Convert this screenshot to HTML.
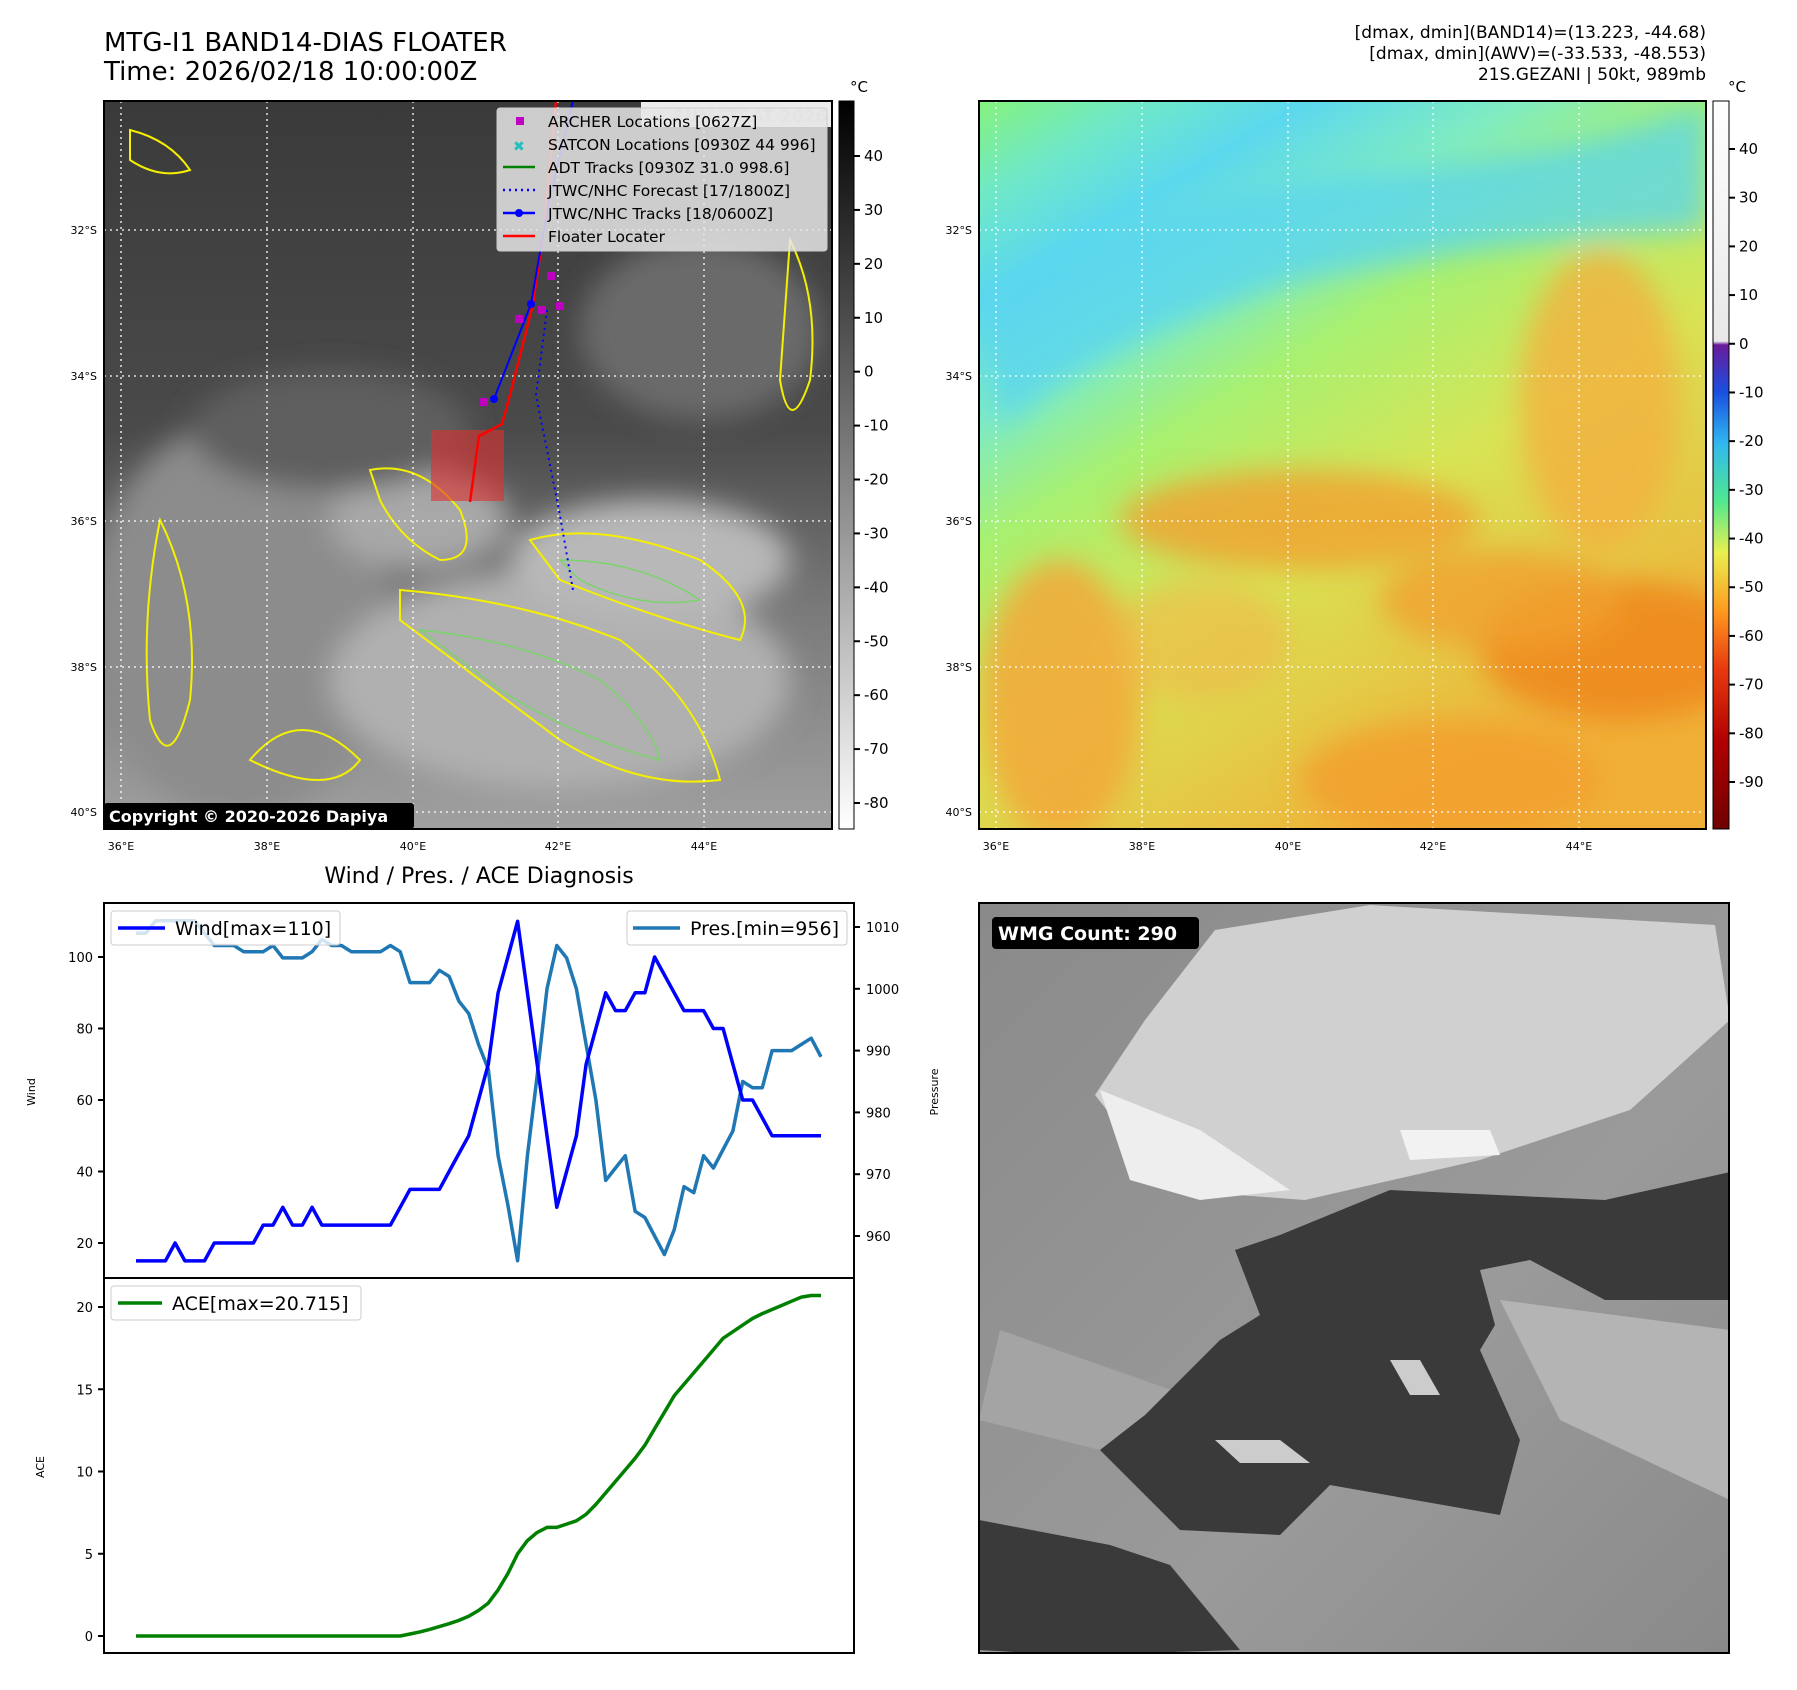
<!DOCTYPE html>
<html><head><meta charset="utf-8"><style>
html,body{margin:0;padding:0;background:#fff;}
body{width:1797px;height:1690px;position:relative;overflow:hidden;font-family:"DejaVu Sans","Liberation Sans",sans-serif;}
svg{position:absolute;left:0;top:0;}
</style></head><body>
<svg width="1797" height="1690" viewBox="0 0 1797 1690" xmlns="http://www.w3.org/2000/svg">
<defs>
<linearGradient id="cbL" x1="0" y1="0" x2="0" y2="1"><stop offset="0" stop-color="#000"/><stop offset="1" stop-color="#fff"/></linearGradient>
<linearGradient id="cbR" x1="0" y1="0" x2="0" y2="1">
<stop offset="0" stop-color="#ffffff"/><stop offset="0.33" stop-color="#e8e8e8"/>
<stop offset="0.335" stop-color="#6a1a9a"/><stop offset="0.4" stop-color="#1a4fe0"/><stop offset="0.47" stop-color="#30b8f0"/>
<stop offset="0.55" stop-color="#50e890"/><stop offset="0.62" stop-color="#e8f050"/><stop offset="0.7" stop-color="#ff9a20"/>
<stop offset="0.78" stop-color="#e83a10"/><stop offset="0.88" stop-color="#b00000"/><stop offset="1" stop-color="#700000"/></linearGradient>
<linearGradient id="mapR" x1="0" y1="0" x2="0.6" y2="1">
<stop offset="0" stop-color="#86f27c"/><stop offset="0.1" stop-color="#6fe8c8"/><stop offset="0.2" stop-color="#5cd8ee"/>
<stop offset="0.33" stop-color="#80ecc0"/><stop offset="0.45" stop-color="#a8f070"/><stop offset="0.65" stop-color="#d8e455"/><stop offset="1" stop-color="#f0b038"/></linearGradient>
<linearGradient id="mapL" x1="0" y1="0" x2="0" y2="1">
<stop offset="0" stop-color="#3a3a3a"/><stop offset="0.45" stop-color="#4a4a4a"/><stop offset="0.7" stop-color="#7a7a7a"/><stop offset="1" stop-color="#a0a0a0"/></linearGradient>
<linearGradient id="wmgBg" x1="0" y1="0" x2="1" y2="1">
<stop offset="0" stop-color="#8a8a8a"/><stop offset="0.6" stop-color="#9a9a9a"/><stop offset="1" stop-color="#8a8a8a"/></linearGradient>
<filter id="blur8"><feGaussianBlur stdDeviation="14"/></filter>
<clipPath id="clipL"><rect x="104" y="101" width="728" height="728"/></clipPath>
<clipPath id="clipR"><rect x="979" y="101" width="727" height="728"/></clipPath>
<clipPath id="clipB"><rect x="979" y="903" width="750" height="750"/></clipPath>
</defs>

<text x="104" y="51" font-size="26">MTG-I1 BAND14-DIAS FLOATER</text>
<text x="104" y="80" font-size="26">Time: 2026/02/18 10:00:00Z</text>
<g font-size="17" text-anchor="end">
<text x="1706" y="38">[dmax, dmin](BAND14)=(13.223, -44.68)</text>
<text x="1706" y="59">[dmax, dmin](AWV)=(-33.533, -48.553)</text>
<text x="1706" y="80">21S.GEZANI | 50kt, 989mb</text>
</g>

<g clip-path="url(#clipL)">
<rect x="104" y="101" width="728" height="728" fill="url(#mapL)"/>
<g filter="url(#blur8)">
<ellipse cx="700" cy="330" rx="120" ry="90" fill="#6a6a6a"/>
<ellipse cx="240" cy="620" rx="150" ry="200" fill="#8c8c8c"/>
<ellipse cx="560" cy="680" rx="230" ry="110" fill="#b0b0b0"/>
<ellipse cx="420" cy="520" rx="90" ry="50" fill="#a8a8a8"/>
<ellipse cx="650" cy="560" rx="140" ry="60" fill="#b8b8b8"/>
<ellipse cx="330" cy="430" rx="140" ry="60" fill="#5e5e5e"/>
</g>
<g fill="none" stroke="#f5f000" stroke-width="2">
<path d="M370 470 Q420 460 460 510 Q480 560 440 560 Q400 540 380 500 Z"/>
<path d="M400 590 Q520 600 620 640 Q700 700 720 780 Q640 790 560 740 Q480 680 400 620 Z"/>
<path d="M530 540 Q600 520 700 560 Q760 600 740 640 Q660 620 560 580 Z"/>
<path d="M160 520 Q200 600 190 700 Q170 780 150 720 Q140 620 160 520 Z"/>
<path d="M790 240 Q820 300 810 380 Q790 440 780 380 Z"/>
<path d="M130 130 Q170 140 190 170 Q160 180 130 160 Z"/>
<path d="M250 760 Q300 700 360 760 Q330 800 250 760 Z"/>
</g>
<g fill="none" stroke="#7ad46a" stroke-width="1.5">
<path d="M420 630 Q520 640 600 680 Q650 720 660 760 Q580 740 500 690 Z"/>
<path d="M560 560 Q640 560 700 600 Q640 610 580 580 Z"/>
</g>
<g stroke="#fff" stroke-width="1.3" stroke-dasharray="2,4">
<line x1="121" y1="101" x2="121" y2="829"/><line x1="267" y1="101" x2="267" y2="829"/><line x1="413" y1="101" x2="413" y2="829"/><line x1="558" y1="101" x2="558" y2="829"/><line x1="704" y1="101" x2="704" y2="829"/>
<line x1="104" y1="230" x2="832" y2="230"/><line x1="104" y1="376" x2="832" y2="376"/><line x1="104" y1="521" x2="832" y2="521"/><line x1="104" y1="667" x2="832" y2="667"/><line x1="104" y1="812" x2="832" y2="812"/>
</g>
<rect x="431" y="430" width="73" height="71" fill="#e03030" fill-opacity="0.6"/>
<polyline points="470,502 479,436 502,424 510,395 533,304 544,229 556,101" fill="none" stroke="#ff0000" stroke-width="2.5"/>
<polyline points="494,399 531,304 548,206 573,101" fill="none" stroke="#0000ff" stroke-width="2"/>
<circle cx="494" cy="399" r="4" fill="#0000ff"/><circle cx="531" cy="304" r="4" fill="#0000ff"/>
<polyline points="547,310 536,395 559,510 573,590" fill="none" stroke="#0000ff" stroke-width="2" stroke-dasharray="2,4"/>
<g fill="#c000c0"><rect x="480" y="398" width="8" height="8"/><rect x="515" y="315" width="8" height="8"/><rect x="538" y="306" width="8" height="8"/><rect x="556" y="302" width="8" height="8"/><rect x="547" y="272" width="8" height="8"/></g>
<rect x="641" y="101" width="190" height="26" fill="#fff" fill-opacity="0.9"/>
<text x="650" y="122" font-size="17" font-weight="bold" fill="#ccc">© EUMETSAT 2026</text>
<g>
<rect x="497" y="108" width="330" height="143" rx="3" fill="#e6e6e6" fill-opacity="0.85" stroke="#ccc"/>
<g font-size="15.5" fill="#000">
<rect x="516" y="117" width="8" height="8" fill="#c000c0"/><text x="548" y="127">ARCHER Locations [0627Z]</text>
<text x="513" y="151" fill="#20c0c0" font-size="14" font-weight="bold">✖</text><text x="548" y="150">SATCON Locations [0930Z 44 996]</text>
<line x1="503" y1="167" x2="535" y2="167" stroke="#008000" stroke-width="2.5"/><text x="548" y="173">ADT Tracks [0930Z 31.0 998.6]</text>
<line x1="503" y1="190" x2="535" y2="190" stroke="#0000ff" stroke-width="2.5" stroke-dasharray="2,4"/><text x="548" y="196">JTWC/NHC Forecast [17/1800Z]</text>
<line x1="503" y1="213" x2="535" y2="213" stroke="#0000ff" stroke-width="2.5"/><circle cx="519" cy="213" r="4" fill="#0000ff"/><text x="548" y="219">JTWC/NHC Tracks [18/0600Z]</text>
<line x1="503" y1="236" x2="535" y2="236" stroke="#ff0000" stroke-width="2.5"/><text x="548" y="242">Floater Locater</text>
</g></g>
<rect x="104" y="803" width="310" height="26" rx="3" fill="#000"/>
<text x="109" y="822" font-size="16" font-weight="bold" fill="#fff">Copyright © 2020-2026 Dapiya</text>
</g>
<rect x="104" y="101" width="728" height="728" fill="none" stroke="#000" stroke-width="2"/>
<g font-size="11">
<g text-anchor="end"><text x="97" y="234">32°S</text><text x="97" y="380">34°S</text><text x="97" y="525">36°S</text><text x="97" y="671">38°S</text><text x="97" y="816">40°S</text></g>
<g text-anchor="middle"><text x="121" y="850">36°E</text><text x="267" y="850">38°E</text><text x="413" y="850">40°E</text><text x="558" y="850">42°E</text><text x="704" y="850">44°E</text></g>
</g>
<rect x="839" y="101" width="15" height="728" fill="url(#cbL)" stroke="#000"/>
<text x="859" y="92" font-size="15" text-anchor="middle">°C</text>
<g id="cbLticks" font-size="15"></g>

<g clip-path="url(#clipR)">
<rect x="979" y="101" width="727" height="728" fill="url(#mapR)"/>
<g filter="url(#blur8)">
<path d="M979 300 Q1150 190 1400 170 Q1600 150 1706 101 L1706 230 Q1500 240 1300 280 Q1100 340 1000 430 Z" fill="#5ad4f0" opacity="0.75"/>
<ellipse cx="1300" cy="520" rx="180" ry="50" fill="#f0a030" opacity="0.8"/>
<ellipse cx="1600" cy="400" rx="80" ry="150" fill="#f2b040" opacity="0.8"/>
<ellipse cx="1620" cy="650" rx="140" ry="70" fill="#ee8a20" opacity="0.9"/>
<ellipse cx="1500" cy="600" rx="120" ry="50" fill="#f0a030" opacity="0.8"/>
<ellipse cx="1060" cy="700" rx="80" ry="140" fill="#f2a838" opacity="0.85"/>
<ellipse cx="1450" cy="780" rx="150" ry="60" fill="#f2a030" opacity="0.85"/>
<ellipse cx="1200" cy="640" rx="90" ry="60" fill="#f0b848" opacity="0.6"/>
</g>
<g stroke="#fff" stroke-width="1.3" stroke-dasharray="2,4">
<line x1="996" y1="101" x2="996" y2="829"/><line x1="1142" y1="101" x2="1142" y2="829"/><line x1="1288" y1="101" x2="1288" y2="829"/><line x1="1433" y1="101" x2="1433" y2="829"/><line x1="1579" y1="101" x2="1579" y2="829"/>
<line x1="979" y1="230" x2="1706" y2="230"/><line x1="979" y1="376" x2="1706" y2="376"/><line x1="979" y1="521" x2="1706" y2="521"/><line x1="979" y1="667" x2="1706" y2="667"/><line x1="979" y1="812" x2="1706" y2="812"/>
</g></g>
<rect x="979" y="101" width="727" height="728" fill="none" stroke="#000" stroke-width="2"/>
<g font-size="11">
<g text-anchor="end"><text x="972" y="234">32°S</text><text x="972" y="380">34°S</text><text x="972" y="525">36°S</text><text x="972" y="671">38°S</text><text x="972" y="816">40°S</text></g>
<g text-anchor="middle"><text x="996" y="850">36°E</text><text x="1142" y="850">38°E</text><text x="1288" y="850">40°E</text><text x="1433" y="850">42°E</text><text x="1579" y="850">44°E</text></g>
</g>
<rect x="1713" y="101" width="16" height="728" fill="url(#cbR)" stroke="#000"/>
<text x="1737" y="92" font-size="15" text-anchor="middle">°C</text>
<g id="cbRticks" font-size="15"></g>

<g clip-path="url(#clipB)">
<rect x="979" y="903" width="750" height="750" fill="url(#wmgBg)"/>
<polygon points="1215,930 1370,905 1715,925 1730,1020 1630,1110 1480,1160 1305,1200 1170,1190 1095,1095 1145,1020" fill="#d0d0d0"/>
<polygon points="1100,1090 1200,1130 1290,1190 1200,1200 1130,1180" fill="#eeeeee"/>
<polygon points="1400,1130 1490,1130 1500,1155 1410,1160" fill="#f2f2f2"/>
<polygon points="1500,1300 1730,1330 1730,1500 1560,1420" fill="#b4b4b4"/>
<polygon points="1000,1330 1200,1400 1100,1450 979,1420" fill="#a4a4a4"/>
<polygon points="1235,1250 1280,1235 1390,1190 1605,1200 1730,1172 1730,1300 1605,1300 1530,1260 1480,1270 1495,1325 1480,1350 1520,1440 1500,1515 1330,1485 1280,1535 1180,1530 1100,1450 1145,1415 1220,1340 1260,1315" fill="#3a3a3a"/>
<polygon points="979,1520 1110,1545 1170,1565 1240,1650 1070,1655 979,1650" fill="#3a3a3a"/>
<polygon points="1390,1360 1420,1360 1440,1395 1410,1395" fill="#cccccc"/>
<polygon points="1215,1440 1280,1440 1310,1463 1240,1463" fill="#cccccc"/>
</g>
<rect x="979" y="903" width="750" height="750" fill="none" stroke="#000" stroke-width="2"/>
<rect x="992" y="917" width="207" height="32" rx="4" fill="#000"/>
<text x="998" y="940" font-size="19" font-weight="bold" fill="#fff">WMG Count: 290</text>

<text x="479" y="883" font-size="22" text-anchor="middle">Wind / Pres. / ACE Diagnosis</text>
<rect x="104" y="903" width="750" height="375" fill="none" stroke="#000" stroke-width="2"/>
<rect x="104" y="1278" width="750" height="375" fill="none" stroke="#000" stroke-width="2"/>
<text transform="translate(35,1092) rotate(-90)" font-size="11" text-anchor="middle">Wind</text>
<text transform="translate(938,1092) rotate(-90)" font-size="11" text-anchor="middle">Pressure</text>
<text transform="translate(44,1467) rotate(-90)" font-size="11" text-anchor="middle">ACE</text>
<g id="charts"></g>
<g>
<rect x="111" y="911" width="229" height="34" rx="3" fill="#fff" fill-opacity="0.8" stroke="#ccc"/>
<line x1="118" y1="928" x2="165" y2="928" stroke="#0000ff" stroke-width="3.5"/>
<text x="175" y="935" font-size="19">Wind[max=110]</text></g>
<g>
<rect x="627" y="911" width="220" height="34" rx="3" fill="#fff" fill-opacity="0.8" stroke="#ccc"/>
<line x1="633" y1="928" x2="680" y2="928" stroke="#1f77b4" stroke-width="3.5"/>
<text x="690" y="935" font-size="19">Pres.[min=956]</text></g>
<g>
<rect x="111" y="1286" width="250" height="34" rx="3" fill="#fff" fill-opacity="0.8" stroke="#ccc"/>
<line x1="118" y1="1303" x2="162" y2="1303" stroke="#008000" stroke-width="3.5"/>
<text x="172" y="1310" font-size="19">ACE[max=20.715]</text></g>
</svg>
<script>
const wind=[15,15,15,15,20,15,15,15,20,20,20,20,20,25,25,30,25,25,30,25,25,25,25,25,25,25,25,30,35,35,35,35,40,45,50,60,70,90,100,110,90,70,50,30,40,50,70,80,90,85,85,90,90,100,95,90,85,85,85,80,80,70,60,60,55,50,50,50,50,50,50];
const pres=[1009,1009,1011,1011,1011,1011,1011,1009,1007,1007,1007,1006,1006,1006,1007,1005,1005,1005,1006,1008,1007,1007,1006,1006,1006,1006,1007,1006,1001,1001,1001,1003,1002,998,996,991,987,973,965,956,973,986,1000,1007,1005,1000,991,982,969,971,973,964,963,960,957,961,968,967,973,971,974,977,985,984,984,990,990,990,991,992,989];
const ace=[0,0,0,0,0,0,0,0,0,0,0,0,0,0,0,0,0,0,0,0,0,0,0,0,0,0,0,0,0.12,0.25,0.4,0.57,0.75,0.95,1.2,1.55,2.0,2.8,3.8,5.0,5.8,6.3,6.6,6.6,6.8,7.0,7.4,8.0,8.7,9.4,10.1,10.8,11.6,12.6,13.6,14.6,15.3,16.0,16.7,17.4,18.1,18.5,18.9,19.3,19.6,19.85,20.1,20.35,20.6,20.7,20.7];
const windTicks=[20,40,60,80,100];
const presTicks=[960,970,980,990,1000,1010];
const aceTicks=[0,5,10,15,20];
const cbLTicks=[40,30,20,10,0,-10,-20,-30,-40,-50,-60,-70,-80];
const cbRTicks=[40,30,20,10,0,-10,-20,-30,-40,-50,-60,-70,-80,-90];

const NS='http://www.w3.org/2000/svg';
const xS=i=>136+i*(685/(wind.length-1));
const yW=v=>1243-(v-20)*(286/80);
const yP=v=>1236-(v-960)*(309/50);
const yA=v=>1636-v*(329/20);
const yCL=v=>156+(40-v)*(647/120);
const yCR=v=>149+(40-v)*(633/130);
function mk(tag,attrs,parent){const e=document.createElementNS(NS,tag);for(const k in attrs)e.setAttribute(k,attrs[k]);parent.appendChild(e);return e;}
const g=document.getElementById('charts');
function line(arr,yf,color,name){
  const p=mk('polyline',{points:arr.map((v,i)=>xS(i).toFixed(1)+','+yf(v).toFixed(1)).join(' '),fill:'none',stroke:color,'stroke-width':3.5,'stroke-linejoin':'round'},g);
  
  
}
line(pres,yP,'#1f77b4','pressure-line');
line(wind,yW,'#0000ff','wind-line');
line(ace,yA,'#008000','ace-line');
function ticks(arr,yf,x0,dir,anchor,tx,parent,name,fs){
  arr.forEach(v=>{
    const y=yf(v);
    mk('line',{x1:x0,y1:y,x2:x0+dir*6,y2:y,stroke:'#000','stroke-width':2},parent);
    const t=mk('text',{x:tx,y:y+5,'font-size':fs,'text-anchor':anchor},parent);
    t.textContent=v;
    
    
  });
}
ticks(windTicks,yW,104,-1,'end',93,g,'wind-tick-label',13);
ticks(presTicks,yP,854,1,'start',866,g,'pressure-tick-label',13);
ticks(aceTicks,yA,104,-1,'end',93,g,'ace-tick-label',13);
ticks(cbLTicks,yCL,854,1,'start',864,document.getElementById('cbLticks'),'left-colorbar-tick',15);
ticks(cbRTicks,yCR,1729,1,'start',1739,document.getElementById('cbRticks'),'right-colorbar-tick',15);
</script>
</body></html>
